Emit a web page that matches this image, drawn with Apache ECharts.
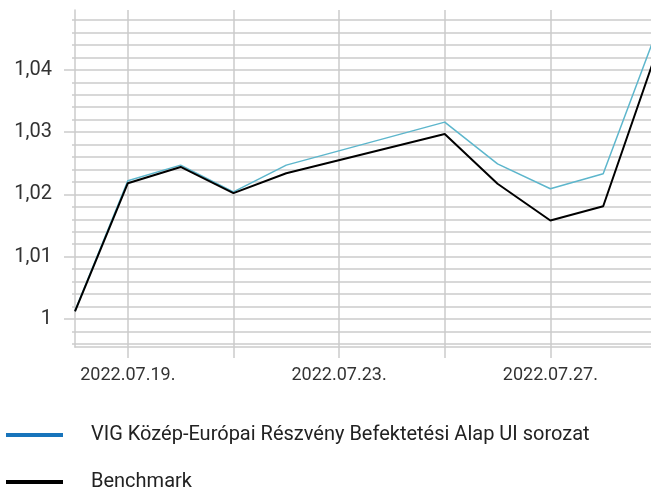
<!DOCTYPE html>
<html>
<head>
<meta charset="utf-8">
<script src="https://cdn.jsdelivr.net/npm/echarts@6/dist/echarts.min.js"></script>
<style>
  html, body { margin: 0; padding: 0; background: #fff; }
  #chart { width: 651px; height: 487px; }
</style>
</head>
<body>
<div id="chart"></div>
<script>
// napok (hétvégén nincs adat)
const dates = ['2022.07.18.', '2022.07.19.', '2022.07.20.', '2022.07.21.', '2022.07.22.', '2022.07.23.',
  '2022.07.24.', '2022.07.25.', '2022.07.26.', '2022.07.27.', '2022.07.28.', '2022.07.29.']
const fundValues = [1.0013, 1.0222, 1.0247, 1.0204, 1.0247, null, null, 1.0316, 1.0249, 1.0209, 1.0233, 1.0459]
const benchmarkValues = [1.0012, 1.0218, 1.0244, 1.0202, 1.0234, null, null, 1.0297, 1.0217, 1.0158, 1.0181, 1.0426]
const yTicks = [1, 1.01, 1.02, 1.03, 1.04]
const seriesNames = ['VIG Közép-Európai Részvény Befektetési Alap UI sorozat', 'Benchmark']

const gridColor = '#cbcbcb'
const font = 'Roboto'

const chart = echarts.init(document.getElementById('chart'))
chart.setOption({
  animation: false,
  // a rajzterület jobbra kilóg a képből
  grid: { left: 75, width: 581, top: 10, height: 337, outerBoundsMode: 'none', containLabel: false },
  legend: {
    orient: 'vertical',
    left: 6,
    top: 425,
    height: 120,
    padding: 0,
    itemWidth: 57,
    itemHeight: 4,
    itemGap: 27,
    icon: 'rect',
    textStyle: { fontFamily: font, fontSize: 20, color: '#222', lineHeight: 20, padding: [0, 0, 0, 23] },
    data: [
      { name: seriesNames[0], itemStyle: { color: '#1874bb' } },
      { name: seriesNames[1], itemStyle: { color: '#000' } }
    ]
  },
  xAxis: {
    type: 'category',
    data: dates,
    boundaryGap: false,
    axisLine: { lineStyle: { color: gridColor, width: 1.5 } },
    axisTick: { length: 11, interval: (i) => i % 2 === 1, lineStyle: { color: gridColor, width: 1.5 } },
    axisLabel: {
      interval: (i) => i % 4 === 1,
      margin: 19,
      fontFamily: font, fontSize: 18, color: '#333'
    },
    splitLine: { show: true, interval: (i) => i % 2 === 1, lineStyle: { color: gridColor, width: 1.5 } }
  },
  yAxis: {
    type: 'value',
    min: 0.9955,
    max: 1.0496,
    splitNumber: 5,
    minInterval: 0.01,
    maxInterval: 0.01,
    axisLine: { show: true, lineStyle: { color: gridColor, width: 1.5 } },
    axisTick: { show: true, length: 11, customValues: yTicks, lineStyle: { color: gridColor, width: 1.5 } },
    minorTick: { show: true, splitNumber: 5, length: 3, lineStyle: { color: gridColor, width: 1.5 } },
    axisLabel: {
      customValues: yTicks,
      margin: 23,
      fontFamily: font, fontSize: 20, color: '#333',
      formatter: (v) => (Math.abs(v - 1) < 1e-9 ? '1' : v.toFixed(2).replace('.', ','))
    },
    splitLine: { show: true, lineStyle: { color: gridColor, width: 1.5 } },
    minorSplitLine: { show: true, lineStyle: { color: gridColor, width: 1.5 } }
  },
  series: [
    {
      name: seriesNames[0],
      type: 'line',
      data: fundValues,
      connectNulls: true,
      symbol: 'none',
      lineStyle: { color: '#5db6cc', width: 1.5 },
      itemStyle: { color: '#1874bb' }
    },
    {
      name: seriesNames[1],
      type: 'line',
      data: benchmarkValues,
      connectNulls: true,
      symbol: 'none',
      lineStyle: { color: '#000', width: 2 },
      itemStyle: { color: '#000' }
    }
  ]
})
</script>
</body>
</html>
